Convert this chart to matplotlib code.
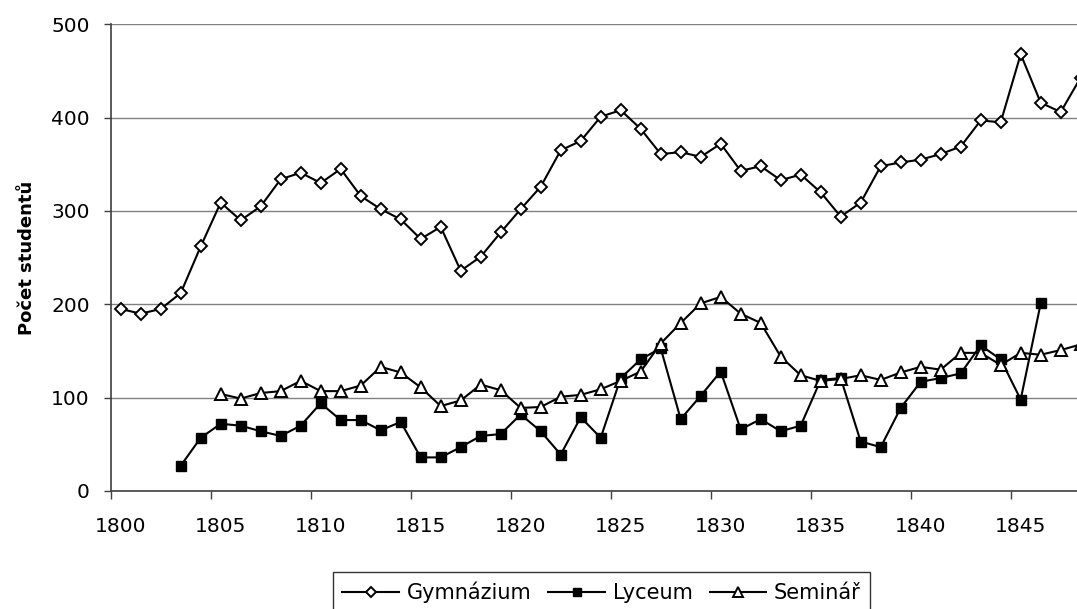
import matplotlib
matplotlib.use("Agg")
import matplotlib.pyplot as plt
import numpy as np

years = list(range(1800, 1849))

gymnazium = [195, 190, 195, 212, 262, 309, 290, 305, 334, 341,
             330, 345, 316, 302, 291, 270, 283, 236, 251, 277,
             302, 326, 365, 375, 401, 408, 388, 361, 363, 358,
             372, 343, 348, 333, 339, 320, 294, 309, 348, 352,
             355, 361, 369, 397, 395, 468, 416, 406, 443]

lyceum = [None, None, None, 27, 57, 72, 70, 64, 59, 70,
          94, 76, 76, 65, 74, 36, 36, 47, 59, 61,
          82, 64, 39, 79, 57, 121, 141, 153, 77, 102,
          128, 66, 77, 64, 70, 119, 121, 53, 47, 89,
          117, 121, 126, 156, 141, 98, 201, None, None]

seminar = [None, None, None, None, None, 104, 99, 105, 107, 118,
           107, 107, 113, 133, 127, 111, 91, 97, 114, 108,
           89, 90, 101, 103, 109, 118, 128, 158, 180, 201,
           208, 190, 180, 144, 124, 118, 120, 124, 119, 127,
           133, 130, 148, 148, 135, 148, 146, 151, 157]

series_names = ["Gymnázium", "Lyceum", "Seminář"]
label_years = list(range(1800, 1850, 5))
y_ticks = [0, 100, 200, 300, 400, 500]
y_label = "Počet studentů"

plt.rcParams['font.family'] = ['DejaVu Sans']

W, H = 1077, 609
fig = plt.figure(figsize=(W / 100, H / 100), dpi=100)
ax_left, ax_right, ax_top, ax_bottom = 110.7, 1077, 24.3, 491
ax = fig.add_axes([ax_left / W, 1 - ax_bottom / H,
                   (ax_right - ax_left) / W, (ax_bottom - ax_top) / H])

def arr(v):
    return np.array([np.nan if x is None else x for x in v], dtype=float)

x = np.array(years, dtype=float)
lw = 1.5
ax.plot(x, arr(gymnazium), color='black', lw=lw, marker='D', ms=6.3,
        mfc='white', mec='black', mew=1.4, label=series_names[0], zorder=3)
ax.plot(x, arr(lyceum), color='black', lw=lw, marker='s', ms=7.8,
        mfc='black', mec='black', mew=1, label=series_names[1], zorder=3)
ax.plot(x, arr(seminar), color='black', lw=lw, marker='^', ms=8.6,
        mfc='white', mec='black', mew=1.4, label=series_names[2], zorder=3)

ax.set_xlim(1799.5, 1799.5 + (ax_right - ax_left) / 20.0)
ax.set_ylim(0, 500)

# major ticks at category boundaries, labels at category centres
ax.set_xticks([y - 0.5 for y in label_years])
ax.set_xticklabels([])
ax.set_xticks(label_years, minor=True)
ax.set_xticklabels([str(y) for y in label_years], minor=True)
ax.tick_params(axis='x', which='major', direction='out', length=5.5,
               width=1, color='#404040')
ax.tick_params(axis='x', which='minor', length=0, pad=19, labelsize=14.5)

ax.set_yticks(y_ticks)
ax.set_yticklabels([str(v) for v in y_ticks])
ax.tick_params(axis='y', direction='out', length=5, width=1,
               color='#404040', pad=10, labelsize=14.5)

ax.grid(axis='y', color='#808080', lw=1, zorder=0)
ax.grid(axis='x', visible=False)
for s in ['top', 'right']:
    ax.spines[s].set_visible(False)
for s in ['left', 'bottom']:
    ax.spines[s].set_color('#404040')
    ax.spines[s].set_linewidth(1.2)

fig.text(32 / W, 1 - 257.5 / H, y_label, rotation=90, rotation_mode='anchor',
         ha='center', va='baseline', fontweight='bold', fontsize=13)

leg = fig.legend(loc='upper left', bbox_to_anchor=(333 / W, 1 - 572 / H),
                 ncol=3, frameon=True, fancybox=False, fontsize=15,
                 handlelength=2.7, handletextpad=0.4, columnspacing=0.8,
                 borderaxespad=0, borderpad=0.45, markerscale=0.8)
leg.get_frame().set_edgecolor('black')
leg.get_frame().set_linewidth(1)

fig.savefig("out.png", dpi=100, facecolor='white')
